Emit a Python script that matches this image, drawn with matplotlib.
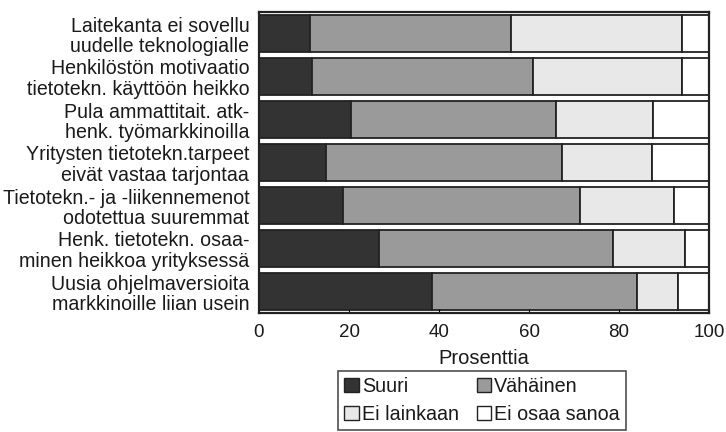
import matplotlib
matplotlib.use("Agg")
import matplotlib.pyplot as plt
from matplotlib.patches import Patch
import numpy as np

plt.rcParams['font.family'] = ['Liberation Sans', 'DejaVu Sans']

categories = [
    "Laitekanta ei sovellu\nuudelle teknologialle",
    "Henkilöstön motivaatio\ntietotekn. käyttöön heikko",
    "Pula ammattitait. atk-\nhenk. työmarkkinoilla",
    "Yritysten tietotekn.tarpeet\neivät vastaa tarjontaa",
    "Tietotekn.- ja -liikennemenot\nodotettua suuremmat",
    "Henk. tietotekn. osaa-\nminen heikkoa yrityksessä",
    "Uusia ohjelmaversioita\nmarkkinoille liian usein",
]
suuri = [11.3, 11.7, 20.4, 14.9, 18.6, 26.7, 38.4]
vahainen = [44.7, 49.1, 45.7, 52.5, 52.7, 52.0, 45.5]
ei_lainkaan = [38.0, 33.2, 21.5, 19.9, 20.9, 16.0, 9.3]
ei_osaa = [6.0, 6.0, 12.4, 12.7, 7.8, 5.3, 6.8]

series = [suuri, vahainen, ei_lainkaan, ei_osaa]
names = ["Suuri", "Vähäinen", "Ei lainkaan", "Ei osaa sanoa"]
colors = ["#333333", "#9a9a9a", "#e8e8e8", "#ffffff"]
txt = "#1a1a1a"

fig = plt.figure(figsize=(7.26, 4.32), dpi=100)
ax = fig.add_axes([259/726, 1 - 313/432, 450/726, 301/432])

y = np.arange(len(categories))
left = np.zeros(len(categories))
for vals, c, n in zip(series, colors, names):
    ax.barh(y, vals, left=left, height=0.87, color=c, edgecolor="#222222",
            linewidth=1.3, label=n)
    left += np.array(vals)

ax.set_xlim(0, 100)
ax.set_ylim(len(categories) - 0.5, -0.5)
ax.set_yticks(y)
ax.set_yticklabels(categories, fontsize=14.1, ha="right", linespacing=1.08, color=txt)
ax.tick_params(axis="y", length=0, pad=7)
ax.set_xticks([0, 20, 40, 60, 80, 100])
ax.tick_params(axis="x", direction="in", length=3, labelsize=13.5, pad=8, labelcolor=txt)
ax.set_xlabel("Prosenttia", fontsize=14.5, labelpad=6, color=txt)
for s in ax.spines.values():
    s.set_linewidth(1.6)
    s.set_color("#222222")

handles = [Patch(facecolor=c, edgecolor="#222222", label=n) for c, n in zip(colors, names)]
order = [0, 2, 1, 3]
leg = fig.legend([handles[i] for i in order], [names[i] for i in order],
                 ncol=2, loc="upper center", bbox_to_anchor=(482/726, 1 - 371/432),
                 fontsize=14.2, frameon=True, fancybox=False, edgecolor="#222222",
                 handlelength=0.75, handleheight=0.7, handletextpad=0.15,
                 columnspacing=0.9, borderpad=0.3, labelspacing=0.45, borderaxespad=0)
leg.get_frame().set_linewidth(1.2)
for t in leg.get_texts():
    t.set_color(txt)

fig.savefig("out.png", dpi=100)
